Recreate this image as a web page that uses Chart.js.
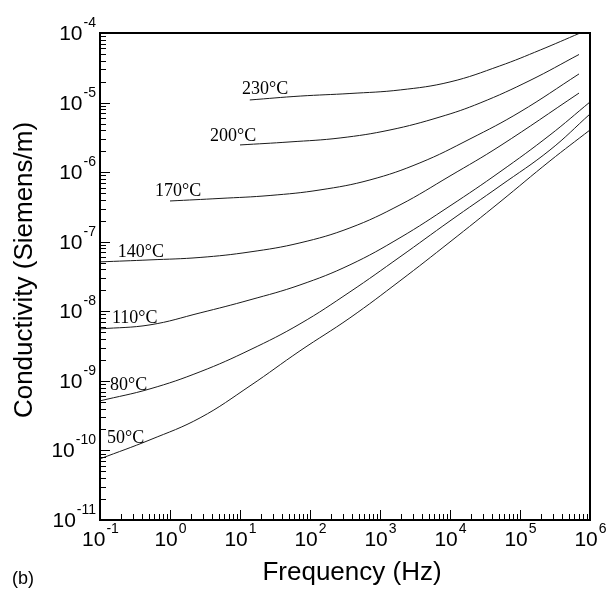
<!DOCTYPE html>
<html>
<head>
<meta charset="utf-8">
<script src="https://cdn.jsdelivr.net/npm/chart.js@4/dist/chart.umd.min.js"></script>
<style>
  html, body { margin: 0; padding: 0; background: #fff; }
  #wrap { width: 606px; height: 592px; }
</style>
</head>
<body>
<div id="wrap"><canvas id="condChart" width="606" height="592"></canvas></div>
<script>
// temperature labels of the curves
var temps = ['230°C', '200°C', '170°C', '140°C', '110°C', '80°C', '50°C'];

// frequency (Hz) / conductivity (S/m), one pair per curve
var freq230 = [13.8, 72.4, 372, 1950, 10000, 51300, 195000, 724000];
var cond230 = [1.09e-5, 1.24e-5, 1.35e-5, 1.52e-5, 1.98e-5, 3.36e-5, 5.70e-5, 1.0e-4];

var freq200 = [10, 51.8, 269, 1390, 7200, 26900, 139000, 697000];
var cond200 = [2.46e-6, 2.72e-6, 3.10e-6, 4.04e-6, 6.21e-6, 9.86e-6, 2.08e-5, 4.91e-5];

var freq170 = [1, 5.18, 26.9, 139, 719, 3720, 19300, 100000, 697000];
var cond170 = [3.85e-7, 4.19e-7, 4.62e-7, 5.55e-7, 7.73e-7, 1.36e-6, 3.00e-6, 7.33e-6, 2.58e-5];

var freq140 = [0.1, 0.518, 2.69, 13.9, 71.9, 372, 1930, 10000, 51800, 697000];
var cond140 = [5.13e-8, 5.48e-8, 5.94e-8, 7.13e-8, 9.62e-8, 1.58e-7, 3.38e-7, 8.81e-7, 2.38e-6, 1.37e-5];

var freq110 = [0.1, 0.518, 2.69, 13.9, 71.9, 372, 1930, 10000, 51800, 268000, 1e6];
var cond110 = [5.58e-9, 6.38e-9, 9.48e-9, 1.46e-8, 2.39e-8, 4.65e-8, 1.14e-7, 3.27e-7, 1.01e-6, 3.42e-6, 1.02e-5];

var freq80 = [0.1, 0.518, 2.69, 13.9, 71.9, 372, 1930, 10000, 51800, 268000, 1e6];
var cond80 = [5.16e-10, 7.67e-10, 1.35e-9, 2.79e-9, 6.59e-9, 1.90e-8, 6.05e-8, 1.99e-7, 6.34e-7, 2.08e-6, 6.85e-6];

var freq50 = [0.1, 0.518, 2.69, 13.9, 71.9, 372, 1930, 10000, 51800, 268000, 1e6];
var cond50 = [7.57e-11, 1.42e-10, 2.94e-10, 8.47e-10, 2.70e-9, 8.04e-9, 2.74e-8, 9.93e-8, 3.73e-7, 1.45e-6, 4.04e-6];

// where each temperature label sits (left/baseline, in data units)
var labelFreq = [10.7, 3.73, 0.61, 0.18, 0.148, 0.139, 0.126];
var labelCond = [1.33e-5, 2.8e-6, 4.55e-7, 6.05e-8, 6.8e-9, 7.4e-10, 1.29e-10];

// axis decades (exponents)
var xDecades = [-1, 0, 1, 2, 3, 4, 5, 6];
var yDecades = [-11, -10, -9, -8, -7, -6, -5, -4];

var series = [
  [freq230, cond230], [freq200, cond200], [freq170, cond170], [freq140, cond140],
  [freq110, cond110], [freq80, cond80], [freq50, cond50]
];

var datasets = series.map(function (s, i) {
  return {
    label: temps[i],
    data: s[0].map(function (f, j) { return { x: f, y: s[1][j] }; }),
    showLine: true,
    pointRadius: 0,
    borderColor: '#1a1a1a',
    borderWidth: 1,
    fill: false,
    tension: 0.4
  };
});

var SANS = '"Liberation Sans", Arial, sans-serif';
var SERIF = '"Liberation Serif", "Times New Roman", serif';

// frame, inward ticks, 10^n labels, titles and curve labels
var decorPlugin = {
  id: 'decor',
  afterDraw: function (chart) {
    var ctx = chart.ctx, a = chart.chartArea;
    var xs = chart.scales.x, ys = chart.scales.y;
    ctx.save();

    // ticks
    ctx.strokeStyle = '#000';
    ctx.lineWidth = 1;
    ctx.beginPath();
    xDecades.forEach(function (e, i) {
      var base = Math.pow(10, e);
      var px = Math.round(xs.getPixelForValue(base)) + 0.5;
      ctx.moveTo(px, a.bottom); ctx.lineTo(px, a.bottom - 10);
      if (i < xDecades.length - 1) {
        for (var k = 2; k <= 9; k++) {
          var p = Math.round(xs.getPixelForValue(k * base)) + 0.5;
          ctx.moveTo(p, a.bottom); ctx.lineTo(p, a.bottom - 6);
        }
      }
    });
    yDecades.forEach(function (e, i) {
      var base = Math.pow(10, e);
      var py = Math.round(ys.getPixelForValue(base)) + 0.5;
      ctx.moveTo(a.left, py); ctx.lineTo(a.left + 10, py);
      if (i < yDecades.length - 1) {
        for (var k = 2; k <= 9; k++) {
          var p = Math.round(ys.getPixelForValue(k * base)) + 0.5;
          ctx.moveTo(a.left, p); ctx.lineTo(a.left + 6, p);
        }
      }
    });
    ctx.stroke();

    // frame
    ctx.lineWidth = 2;
    ctx.strokeRect(a.left, a.top, a.right - a.left, a.bottom - a.top);

    // tick labels
    ctx.fillStyle = '#000';
    ctx.textBaseline = 'alphabetic';
    ctx.textAlign = 'left';
    function power(e, x, y, align) {
      ctx.font = '21px ' + SANS;
      var bw = ctx.measureText('10').width;
      ctx.font = '14px ' + SANS;
      var ew = ctx.measureText(String(e)).width;
      var left = align === 'right' ? x - bw - ew - 1 : x - (bw + ew) / 2;
      ctx.font = '21px ' + SANS;
      ctx.fillText('10', left, y);
      ctx.font = '14px ' + SANS;
      ctx.fillText(String(e), left + bw + 1, y - 13);
    }
    xDecades.forEach(function (e) {
      power(e, xs.getPixelForValue(Math.pow(10, e)), a.bottom + 26, 'center');
    });
    yDecades.forEach(function (e) {
      power(e, a.left - 4, ys.getPixelForValue(Math.pow(10, e)) + 7, 'right');
    });

    // axis titles
    ctx.font = '26px ' + SANS;
    ctx.textAlign = 'center';
    ctx.fillText('Frequency (Hz)', 352, 580);
    ctx.save();
    ctx.translate(32, 270);
    ctx.rotate(-Math.PI / 2);
    ctx.fillText('Conductivity (Siemens/m)', 0, 0);
    ctx.restore();

    ctx.font = '18px ' + SANS;
    ctx.textAlign = 'left';
    ctx.fillText('(b)', 12, 584);

    // curve labels
    ctx.font = '18px ' + SERIF;
    temps.forEach(function (t, i) {
      ctx.fillText(t, xs.getPixelForValue(labelFreq[i]), ys.getPixelForValue(labelCond[i]));
    });

    ctx.restore();
  }
};

var canvas = document.getElementById('condChart').getContext('2d');
var condChart = new Chart(canvas, {
  type: 'scatter',
  data: { datasets: datasets },
  options: {
    responsive: false,
    animation: false,
    layout: { padding: { left: 100, top: 33, right: 16, bottom: 72 } },
    plugins: { legend: { display: false }, tooltip: { enabled: false } },
    scales: {
      x: {
        type: 'logarithmic', min: 0.1, max: 1e6,
        ticks: { display: false },
        grid: { display: false, drawTicks: false },
        border: { display: false }
      },
      y: {
        type: 'logarithmic', min: 1e-11, max: 1e-4,
        ticks: { display: false },
        grid: { display: false, drawTicks: false },
        border: { display: false }
      }
    }
  },
  plugins: [decorPlugin]
});
</script>
</body>
</html>
